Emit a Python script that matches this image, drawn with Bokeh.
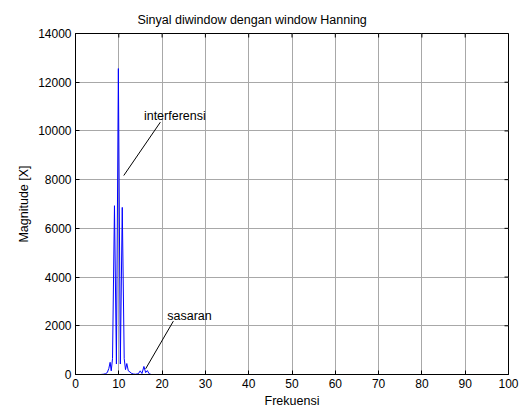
import math
from bokeh.plotting import figure
from bokeh.models import Range1d, LinearAxis, FixedTicker, Label, ColumnDataSource
from bokeh.embed import file_html
from bokeh.resources import INLINE

# --- data ---
freq = [0, 5.8, 6.4, 6.9, 7.35, 7.7, 8.0, 8.25, 8.55, 9.0, 9.45, 9.9, 10.35, 10.8, 11.25,
        11.55, 11.85, 12.2, 12.6, 13.0, 13.4, 13.8, 14.5, 14.95, 15.35, 15.8, 16.2, 16.6,
        17.0, 17.5, 18.0, 100]
magnitude = [0, 0, 10, 30, 80, 250, 500, 150, 650, 6930, 430, 12560, 430, 6860, 650,
             200, 450, 150, 100, 40, 20, 10, 30, 150, 40, 330, 80, 160, 30, 0, 0, 0]

x_ticks = [0, 10, 20, 30, 40, 50, 60, 70, 80, 90, 100]
y_ticks = [0, 2000, 4000, 6000, 8000, 10000, 12000, 14000]
x_max = 100
y_max = 14000

title_text = "Sinyal diwindow dengan window Hanning"
x_label = "Frekuensi"
y_label = "Magnitude [X]"

# annotations: text position and arrow (tail -> head), data coords
ann_texts = ["interferensi", "sasaran"]
ann_text_x = [15.8, 21.2]
ann_text_y = [10630, 2420]
ann_tail_x = [19.6, 22.6]
ann_tail_y = [10360, 2190]
ann_head_x = [11.15, 16.2]
ann_head_y = [8170, 234]

FONT = "Liberation Sans"

p = figure(width=521, height=410, output_backend="svg", toolbar_location=None,
           x_range=Range1d(0, x_max), y_range=Range1d(0, y_max),
           min_border_left=75, min_border_right=13, min_border_top=33, min_border_bottom=36,
           x_axis_location=None, y_axis_location=None)
p.background_fill_color = "white"
p.border_fill_color = "white"
p.outline_line_color = "black"
p.outline_line_width = 1

p.title.text = title_text
p.title.text_font = FONT
p.title.text_font_size = "12.5px"
p.title.text_font_style = "normal"
p.title.text_color = "black"
p.title.align = "left"
p.title.offset = 62
p.title.standoff = 13

def style_axis(ax, ticks, label):
    ax.ticker = FixedTicker(ticks=ticks)
    ax.major_tick_in = 4
    ax.major_tick_out = 0
    ax.minor_tick_line_color = None
    ax.axis_line_color = "black"
    ax.major_tick_line_color = "black"
    ax.major_label_text_font = FONT
    ax.major_label_text_font_size = "12px"
    ax.major_label_text_color = "black"
    ax.major_label_standoff = 4
    ax.axis_label = label
    ax.axis_label_text_font = FONT
    ax.axis_label_text_font_size = "12.5px"
    ax.axis_label_text_font_style = "normal"
    ax.axis_label_text_color = "black"
    ax.axis_label_standoff = 3

xb = LinearAxis(); style_axis(xb, x_ticks, x_label)
yl = LinearAxis(); style_axis(yl, y_ticks, y_label)
yl.major_label_standoff = 4
yl.axis_label_standoff = 4
p.add_layout(xb, "below")
p.add_layout(yl, "left")

p.xgrid.ticker = FixedTicker(ticks=x_ticks)
p.ygrid.ticker = FixedTicker(ticks=y_ticks)
for g in (p.xgrid, p.ygrid):
    g.grid_line_color = "#a8a8a8"
    g.grid_line_width = 1

p.line(freq, magnitude, line_color="#0000ff", line_width=1)

# inward ticks on the top and right edges of the box (half of each dash is clipped away)
p.scatter(x=x_ticks, y=[y_max] * len(x_ticks), marker="dash", size=8, angle=math.pi / 2,
          line_color="black", line_width=1)
p.scatter(x=[x_max] * len(y_ticks), y=y_ticks, marker="dash", size=8,
          line_color="black", line_width=1)

seg_src = ColumnDataSource(dict(x0=ann_tail_x, y0=ann_tail_y, x1=ann_head_x, y1=ann_head_y))
p.segment(x0="x0", y0="y0", x1="x1", y1="y1", source=seg_src, line_color="black", line_width=1)

for t, tx, ty in zip(ann_texts, ann_text_x, ann_text_y):
    p.add_layout(Label(x=tx, y=ty, text=t, text_font=FONT, text_font_size="12.5px",
                       text_color="black", text_align="left", text_baseline="middle"))

open("out.html", "w").write(file_html(p, INLINE))
